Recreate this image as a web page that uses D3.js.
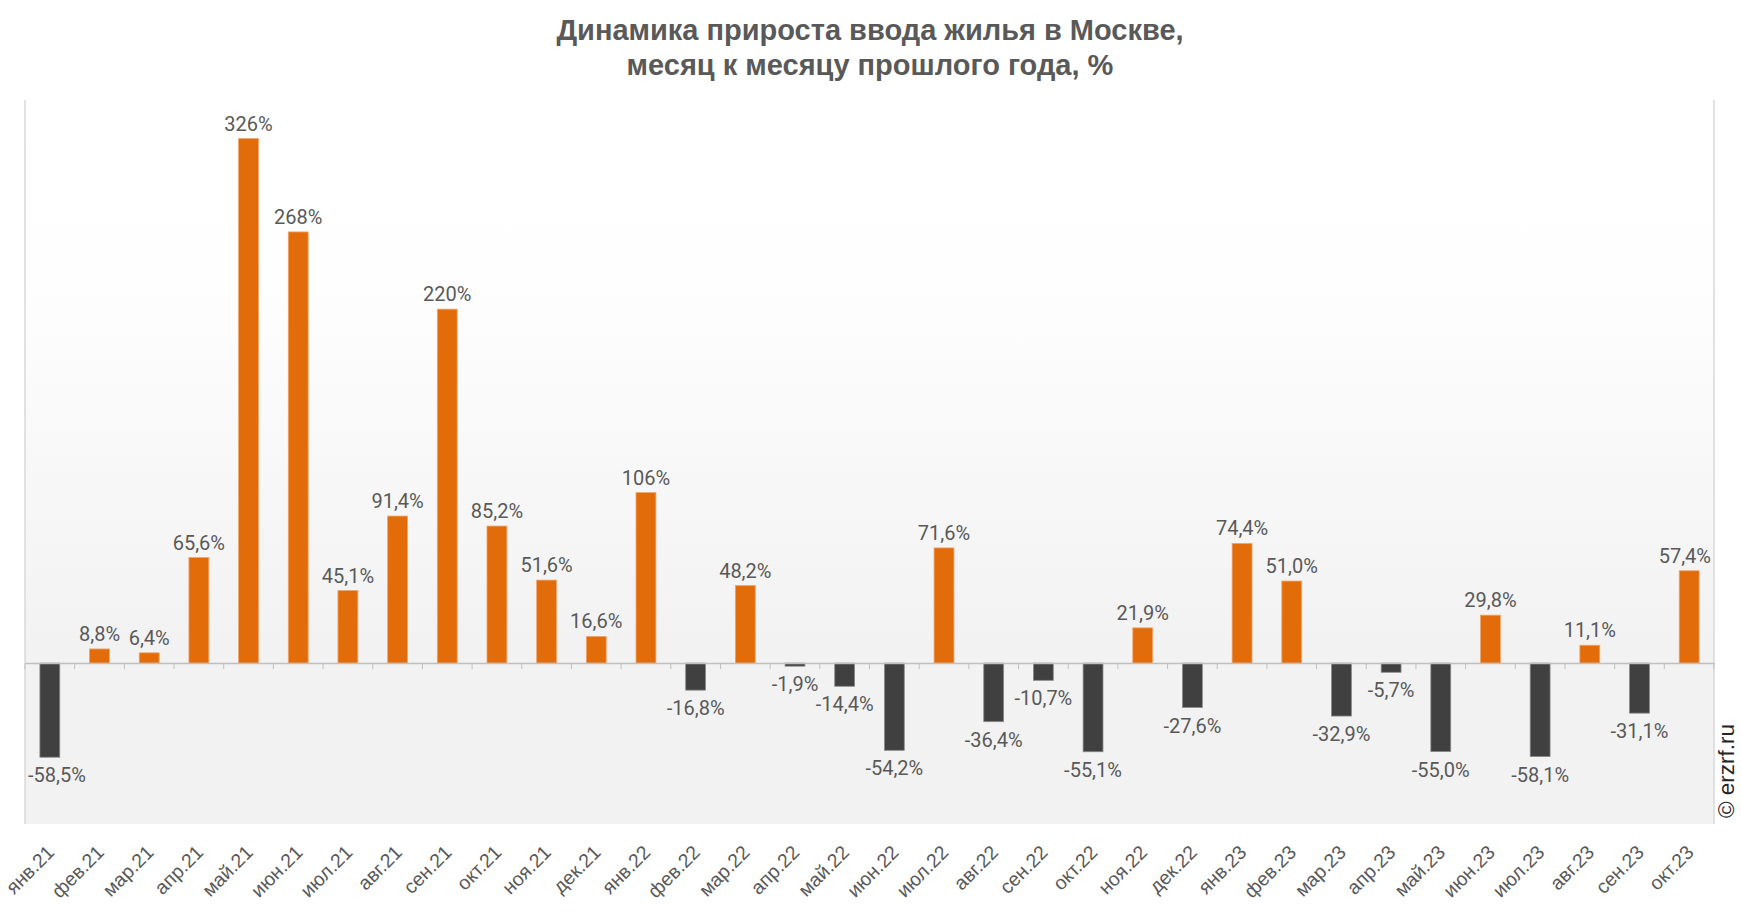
<!DOCTYPE html>
<html><head><meta charset="utf-8">
<script src="https://cdn.jsdelivr.net/npm/d3@7"></script>
<style>body{margin:0;background:#fff}svg{display:block}</style>
</head><body>
<svg id="c" width="1741" height="912"></svg>
<script>
const categories = ["янв.21","фев.21","мар.21","апр.21","май.21","июн.21","июл.21","авг.21","сен.21","окт.21","ноя.21","дек.21",
"янв.22","фев.22","мар.22","апр.22","май.22","июн.22","июл.22","авг.22","сен.22","окт.22","ноя.22","дек.22",
"янв.23","фев.23","мар.23","апр.23","май.23","июн.23","июл.23","авг.23","сен.23","окт.23"];
const values = [-58.5,8.8,6.4,65.6,326,268,45.1,91.4,220,85.2,51.6,16.6,
106,-16.8,48.2,-1.9,-14.4,-54.2,71.6,-36.4,-10.7,-55.1,21.9,-27.6,
74.4,51.0,-32.9,-5.7,-55.0,29.8,-58.1,11.1,-31.1,57.4];
const titleLines = ["Динамика прироста ввода жилья в Москве,","месяц к месяцу прошлого года, %"];
const yDomain = [-100, 350];

const svg = d3.select("#c");
const L = 25, R = 1714, T = 100, B = 824;
const x = d3.scaleBand().domain(categories).range([L, R]).paddingInner(0.6).paddingOuter(0.3);
const xb = d3.scaleBand().domain(categories).range([L, R]);
const y = d3.scaleLinear().domain(yDomain).range([B, T]);

const defs = svg.append("defs");
const g = defs.append("linearGradient").attr("id","bg").attr("x1",0).attr("y1",0).attr("x2",0).attr("y2",1);
g.append("stop").attr("offset","0%").attr("stop-color","#ffffff");
g.append("stop").attr("offset","25%").attr("stop-color","#fefefe");
g.append("stop").attr("offset","75%").attr("stop-color","#f2f2f2");
g.append("stop").attr("offset","100%").attr("stop-color","#f2f2f2");

svg.append("rect").attr("x",L).attr("y",T).attr("width",R-L).attr("height",B-T).attr("fill","url(#bg)");
svg.append("line").attr("x1",L).attr("x2",L).attr("y1",T).attr("y2",B).attr("stroke","#d9d9d9").attr("stroke-width",1.5);
svg.append("line").attr("x1",R).attr("x2",R).attr("y1",T).attr("y2",B).attr("stroke","#d9d9d9").attr("stroke-width",1.5);

// title
svg.append("g").selectAll("text").data(titleLines).join("text")
  .attr("x", 870).attr("y",(d,i)=>40+i*35)
  .attr("text-anchor","middle")
  .attr("font-family","'Liberation Sans',Arial,sans-serif")
  .attr("font-weight","bold").attr("font-size",29).attr("fill","#595959")
  .text(d=>d);

// bars
svg.append("g").selectAll("rect").data(values).join("rect")
  .attr("x",(d,i)=>x(categories[i]))
  .attr("width",x.bandwidth())
  .attr("y",d=>y(Math.max(0,d)))
  .attr("height",d=>Math.abs(y(d)-y(0)))
  .attr("fill",d=>d>=0?"#E36C0A":"#404040")
  .attr("stroke",d=>d>=0?"#f0a36a":"#8a8a8a").attr("stroke-width",0.8);

// zero axis
const ax = d3.axisBottom(xb).tickSize(0).tickFormat("");
const axg = svg.append("g").attr("transform",`translate(0,${y(0)})`).call(ax);
axg.select(".domain").attr("stroke","#bfbfbf").attr("stroke-width",1.5);
svg.append("g").selectAll("line").data(d3.range(categories.length+1)).join("line")
  .attr("x1",i=>L+i*xb.step()).attr("x2",i=>L+i*xb.step())
  .attr("y1",y(0)).attr("y2",y(0)+6).attr("stroke","#bfbfbf").attr("stroke-width",1);

const fmt = v => (Math.abs(v)>=100 ? d3.format(".0f")(v) : d3.format(".1f")(v)).replace(".",",").replace("\u2212","-") + "%";

// value labels (kept inside the plot area, as the original does)
svg.append("g").selectAll("text").data(values).join("text")
  .attr("y",d=> d>=0 ? y(d)-8 : y(d)+25)
  .attr("text-anchor","middle")
  .attr("font-family","Roboto, sans-serif").attr("font-size",20).attr("fill","#595959")
  .text(fmt)
  .attr("x",function(d,i){
    const cx = x(categories[i])+x.bandwidth()/2;
    const w = this.getComputedTextLength();
    return Math.min(Math.max(cx, L+3+w/2), R-3-w/2);
  });

// category labels
svg.append("g").selectAll("text").data(categories).join("text")
  .attr("transform",d=>`translate(${xb(d)+xb.bandwidth()/2-4},${B+20}) rotate(-45)`)
  .attr("text-anchor","end").attr("dy","0.7em")
  .attr("font-family","'Liberation Sans',Arial,sans-serif").attr("font-size",19.5).attr("fill","#595959")
  .text(d=>d);

// watermark
svg.append("text").attr("transform","translate(1734,818) rotate(-90)")
  .attr("font-family","'Liberation Sans',Arial,sans-serif").attr("font-size",22.5).attr("fill","#262626")
  .text("© erzrf.ru");
</script>
</body></html>
